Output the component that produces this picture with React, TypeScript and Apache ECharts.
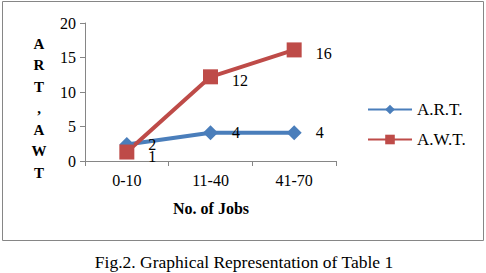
import React, { useEffect, useRef } from "react";
import * as echarts from "echarts";

const categories = ["0-10", "11-40", "41-70"];
const artValues = [2.4, 4.1, 4.1];
const awtValues = [1.3, 12.2, 16.1];
const yTicks = { min: 0, max: 20, interval: 5 };

const FONT = "Liberation Serif";

export default function App() {
  const ref = useRef<HTMLDivElement>(null);
  useEffect(() => {
    if (!ref.current) return;
    const chart = echarts.init(ref.current, undefined, { renderer: "svg" });
    const labelCfg = {
      show: true,
      position: "right" as const,
      distance: 14,
      fontFamily: FONT,
      fontSize: 16,
      color: "#000",
      formatter: (p: any) => String(Math.round(p.value)),
    };
    chart.setOption({
      animation: false,
      backgroundColor: "#fff",
      textStyle: { fontFamily: FONT },
      grid: { left: 85, right: 150, top: 23, bottom: 112 },
      legend: {
        orient: "vertical",
        left: 362,
        top: 96,
        itemWidth: 44,
        itemHeight: 12,
        itemGap: 13,
        textStyle: { fontFamily: FONT, fontSize: 17, color: "#000" },
        data: ["A.R.T.", "A.W.T."],
      },
      xAxis: {
        type: "category",
        data: categories,
        boundaryGap: true,
        axisLine: { lineStyle: { color: "#868686", width: 1 } },
        axisTick: { show: true, length: 5, lineStyle: { color: "#868686" } },
        axisLabel: { fontFamily: FONT, fontSize: 16, color: "#000", margin: 11 },
      },
      yAxis: {
        type: "value",
        min: yTicks.min,
        max: yTicks.max,
        interval: yTicks.interval,
        splitLine: { show: false },
        axisLine: { show: true, lineStyle: { color: "#868686", width: 1 } },
        axisTick: { show: true, length: 5, lineStyle: { color: "#868686" } },
        axisLabel: { fontFamily: FONT, fontSize: 16, color: "#000", margin: 9 },
      },
      series: [
        {
          name: "A.R.T.",
          type: "line",
          data: artValues,
          symbol: "diamond",
          symbolSize: 15,
          color: "#4a7ebb",
          lineStyle: { width: 4, color: "#4a7ebb" },
          itemStyle: { color: "#4a7ebb" },
          label: labelCfg,
        },
        {
          name: "A.W.T.",
          type: "line",
          data: awtValues,
          symbol: "rect",
          symbolSize: 15,
          color: "#be4b48",
          lineStyle: { width: 4, color: "#be4b48" },
          itemStyle: { color: "#be4b48" },
          label: { ...labelCfg, offset: [0, 4] },
        },
      ],
      graphic: [
        {
          type: "rect",
          shape: { x: 2.5, y: 1.5, width: 481, height: 239 },
          style: { fill: "none", stroke: "#868686", lineWidth: 1 },
          silent: true,
        },
        {
          type: "text",
          x: 39,
          y: 108,
          style: {
            text: "A\nR\nT\n,\nA\nW\nT",
            fontFamily: FONT,
            fontSize: 15,
            fontWeight: "bold",
            lineHeight: 21.5,
            align: "center",
            verticalAlign: "middle",
            fill: "#000",
          },
        },
        {
          type: "text",
          x: 211,
          y: 208,
          style: {
            text: "No. of Jobs",
            fontFamily: FONT,
            fontSize: 16,
            fontWeight: "bold",
            align: "center",
            verticalAlign: "middle",
            fill: "#000",
          },
        },
        {
          type: "text",
          x: 244,
          y: 262,
          style: {
            text: "Fig.2. Graphical Representation of Table 1",
            fontFamily: FONT,
            fontSize: 17.5,
            align: "center",
            verticalAlign: "middle",
            fill: "#000",
          },
        },
      ],
    });
    return () => chart.dispose();
  }, []);
  return (
    <div
      ref={ref}
      style={{ position: "fixed", left: 0, top: 0, width: 486, height: 273 }}
    />
  );
}
